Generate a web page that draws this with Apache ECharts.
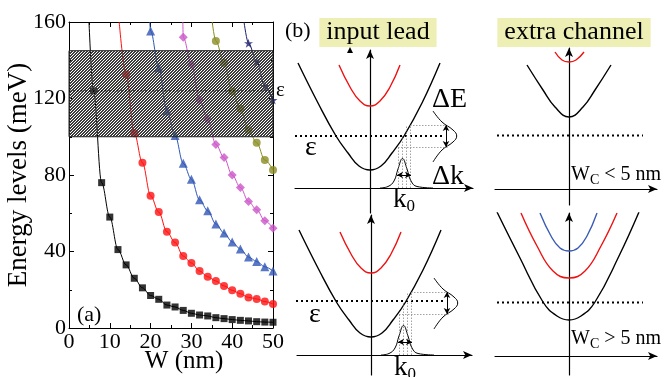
<!DOCTYPE html>
<html><head><meta charset="utf-8">
<script src="https://cdn.jsdelivr.net/npm/echarts@6/dist/echarts.min.js"></script>
<style>html,body{margin:0;padding:0;background:#fff}#c{width:666px;height:377px}</style>
</head><body><div id="c"></div>
<script>
// ================= Panel (a): energy levels vs W =================
const wBlack   = [6,8,10,12,14,16,18,20,22,24,26,28,30,32,34,36,38,40,42,44,46,48,50];
const eBlack   = [124,76,58,41,33,26,21,17,15,12,11,9.2,7.7,6.8,6.3,5.4,4.9,4.4,4.0,3.7,3.3,3.1,3.0];
const wRed     = [14,16,18,20,22,24,26,28,30,32,34,36,38,40,42,44,46,48,50];
const eRed     = [132.6,101.8,86.4,69.2,60.6,50.3,44.7,37.6,34.0,29.8,26.8,24.6,22.0,19.7,17.9,16.0,15.2,13.8,12.5];
const wBlue    = [20,22,24,26,28,30,32,34,36,38,40,42,44,46,48,50];
const eBlue    = [155.3,136.1,113.6,100.6,86.1,77.8,67,61.3,54.4,49.7,45,41.3,37.1,34.8,32,29.8];
const wMagenta = [28,30,32,34,36,38,40,42,44,46,48,50];
const eMagenta = [152,137.9,119.2,109.1,96,89.1,80,73.5,66.1,61.8,56.1,52.1];
const wOlive   = [36,38,40,42,44,46,48,50];
const eOlive   = [150.1,138.7,123.7,114.7,103.5,96.9,87.8,82.6];
const wNavy    = [44,46,48,50];
const eNavy    = [148.9,139.3,126.5,119.2];
// W at which each curve leaves the top of the frame (E = 160)
const topW     = [4.9,12.3,19.8,27.9,35.1,42.9];
const eTop     = 160;
const band     = [100,145];   // shaded energy window
const epsLevel = 124;         // dotted level epsilon
const xTicks   = [0,10,20,30,40,50];
const yTicks   = [0,40,80,120,160];

// ================= Panel (b): schematic band diagrams (arbitrary units) =================
const leadLowK  = [-72,-52,-34,-22,-11,0,11,22,34,52,70];
const leadLowE  = [125,85,52,35,22,18,22,35,52,85,125];
const leadHighK = [-31,-20,-10,0,10,20,30];
const leadHighE = [123,101,87,82,87,101,123];
const leadEps   = [52,54];
const epsSpan   = [-75,73];
const kPacketK  = [10,18,24,28,32.5,37,41,47,63];
const kPacketE  = [0,1.5,7,19,29.5,19,7,1.5,0];
const ePacketK  = [63,72,83,86.7,83,72,63];
const ePacketE  = [77,66,58,52,46,38,26];
const guideK    = [28,32,36,40];
const guideTop  = [41,52,63,63];
const dE        = [41,63];
const dEk       = 76;
const dk        = [27,41];
const dkE       = 13;
const guideEnd  = 79;
const ecNarrowLowK  = [-42,-26,-14,0,14,26,42];
const ecNarrowLowE  = [124,99,82,72,82,99,124];
const ecNarrowHighK = [-14,-7,0,7,15];
const ecNarrowHighE = [137,129,127,129,137];
const ecWide1K = [-72,-50,-26,-12,0,12,26,50,70];
const ecWide1E = [144,100,54,40,36,40,54,100,144];
const ecWide2K = [-48,-32,-16,0,16,32,48];
const ecWide2E = [143,110,85,78,85,110,143];
const ecWide3K = [-29,-18,-9,0,9,18,28];
const ecWide3E = [143,120,108,105,108,120,143];
const ecEps    = 53.5;
const ecSpan   = [-72,74];

const SERIF = "'Liberation Serif','Times New Roman',serif";
const zip = (a, b) => a.map((v, i) => [v, b[i]]);

const pat = document.createElement('canvas'); pat.width = 3; pat.height = 3;
const pc = pat.getContext('2d'); pc.fillStyle = '#3c3c3c';
for (let i = 0; i < 3; i++) { pc.fillRect(i, 2 - i, 1, 1); pc.fillRect((i + 1) % 3, 2 - i, 1, 1); }

const STAR = 'path://M50,0 L61,35 L98,35 L68,57 L79,91 L50,70 L21,91 L32,57 L2,35 L39,35 Z';

const levels = [
  {w: wBlack,   e: eBlack,   c: '#000000', s: 'rect',     sz: 7},
  {w: wRed,     e: eRed,     c: '#ff1010', s: 'circle',   sz: 8},
  {w: wBlue,    e: eBlue,    c: '#2f55b5', s: 'triangle', sz: 9},
  {w: wMagenta, e: eMagenta, c: '#cc55c8', s: 'diamond',  sz: 9},
  {w: wOlive,   e: eOlive,   c: '#8a8c22', s: 'circle',   sz: 8},
  {w: wNavy,    e: eNavy,    c: '#1c1f6e', s: STAR,       sz: 9}
];

const series = [];
levels.forEach((L, i) => {
  const pts = zip(L.w, L.e);
  series.push({type: 'line', xAxisIndex: 0, yAxisIndex: 0, data: [[topW[i], eTop]].concat(pts),
    smooth: 0.35, smoothMonotone: 'x', showSymbol: false, silent: true,
    lineStyle: {color: L.c, width: 1}, z: 2});
  series.push({type: 'scatter', xAxisIndex: 0, yAxisIndex: 0, data: pts, symbol: L.s,
    symbolSize: L.sz, itemStyle: {color: L.c}, silent: true, z: 3});
});
series.push({type: 'custom', xAxisIndex: 0, yAxisIndex: 0, z: 5, silent: true,
  data: [[xTicks[0], xTicks[xTicks.length - 1], band[0], band[1]]],
  encode: {x: [0, 1], y: [2, 3]},
  renderItem: (p, api) => {
    const a = api.coord([api.value(0), api.value(3)]);
    const b = api.coord([api.value(1), api.value(2)]);
    return {type: 'rect', shape: {x: a[0], y: a[1], width: b[0] - a[0], height: b[1] - a[1]},
      style: {fill: {image: pat, repeat: 'repeat'}, stroke: '#222', lineWidth: 1}};
  }});
series.push({type: 'line', xAxisIndex: 0, yAxisIndex: 0, z: 6, silent: true, showSymbol: false,
  data: [[xTicks[0], epsLevel], [xTicks[xTicks.length - 1], epsLevel]],
  lineStyle: {color: '#000', width: 1, type: [1.5, 2.5]},
  endLabel: {show: true, formatter: 'ε', fontFamily: SERIF, fontSize: 21, color: '#000', distance: 3}});

function curve(g, ks, es, color, width, extra) {
  return Object.assign({type: 'line', xAxisIndex: g + 1, yAxisIndex: g + 1, data: zip(ks, es),
    smooth: 0.45, showSymbol: false, silent: true, lineStyle: {color, width}, z: 3}, extra || {});
}
function dotted(g, span, e) {
  return {type: 'line', xAxisIndex: g + 1, yAxisIndex: g + 1, data: [[span[0], e], [span[1], e]],
    showSymbol: false, silent: true, lineStyle: {color: '#000', width: 2, type: [2, 3]}, z: 2};
}
function packets(g) {
  const gl = {color: '#8a8a8a', width: 0.8, type: [1.5, 1.5]};
  const ar = {color: '#000', width: 1, type: 'solid'};
  const seg = (p, q, ls, sym) => [{coord: p, lineStyle: ls, symbol: sym, symbolSize: [5, 6]}, {coord: q, symbol: sym, symbolSize: [5, 6]}];
  const marks = [];
  guideK.forEach((k, i) => marks.push(seg([k, 0], [k, guideTop[i]], gl, 'none')));
  marks.push(seg([guideK[3], dE[1]], [guideEnd, dE[1]], gl, 'none'));
  marks.push(seg([guideK[0], dE[0]], [guideEnd, dE[0]], gl, 'none'));
  marks.push(seg([dEk, dE[0]], [dEk, dE[1]], ar, 'arrow'));
  marks.push(seg([dk[0], dkE], [dk[1], dkE], ar, 'arrow'));
  return [
    curve(g, kPacketK, kPacketE, '#000', 1, {markLine: {silent: true, symbol: 'none',
      label: {show: false}, data: marks, animation: false}}),
    curve(g, ePacketK, ePacketE, '#000', 1)
  ];
}
[1, 2].forEach((g, i) => {
  series.push(dotted(g, epsSpan, leadEps[i]));
  series.push(curve(g, leadLowK, leadLowE, '#000', 1.4));
  series.push(curve(g, leadHighK, leadHighE, '#ee1111', 1.4));
  packets(g).forEach(s => series.push(s));
});
series.push(dotted(3, ecSpan, ecEps));
series.push(curve(3, ecNarrowLowK, ecNarrowLowE, '#000', 1.4));
series.push(curve(3, ecNarrowHighK, ecNarrowHighE, '#ee1111', 1.4));
series.push(dotted(4, ecSpan, ecEps));
series.push(curve(4, ecWide1K, ecWide1E, '#000', 1.4));
series.push(curve(4, ecWide2K, ecWide2E, '#ee1111', 1.4));
series.push(curve(4, ecWide3K, ecWide3E, '#3a5cb5', 1.4));

const tickStyle = {lineStyle: {color: '#000', width: 1}};
const mainX = (pos, labels) => ({gridIndex: 0, type: 'value', position: pos, min: xTicks[0], max: xTicks[xTicks.length - 1],
  interval: xTicks[1] - xTicks[0],
  axisLine: {onZero: false, lineStyle: {color: '#000', width: 1}},
  axisTick: Object.assign({inside: true, length: 5}, tickStyle),
  minorTick: Object.assign({show: true, splitNumber: 2, length: 3}, tickStyle),
  splitLine: {show: false},
  axisLabel: {show: labels, fontFamily: SERIF, fontSize: 22, color: '#000', margin: 3},
  name: labels ? 'W (nm)' : '', nameLocation: 'middle', nameGap: 21, nameMoveOverlap: false,
  nameTextStyle: {fontFamily: SERIF, fontSize: 25, color: '#000', padding: [0, 0, 0, 26]}});
const mainY = (pos, labels) => ({gridIndex: 0, type: 'value', position: pos, min: yTicks[0], max: yTicks[yTicks.length - 1],
  interval: yTicks[1] - yTicks[0],
  axisLine: {onZero: false, lineStyle: {color: '#000', width: 1}},
  axisTick: Object.assign({inside: true, length: 5}, tickStyle),
  minorTick: Object.assign({show: true, splitNumber: 2, length: 3}, tickStyle),
  splitLine: {show: false},
  axisLabel: {show: labels, fontFamily: SERIF, fontSize: 22, color: '#000', margin: 3},
  name: labels ? 'Energy levels (meV)' : '', nameLocation: 'middle', nameGap: 37, nameRotate: 90, nameMoveOverlap: false,
  nameTextStyle: {fontFamily: SERIF, fontSize: 27, color: '#000'}});

const sk = [
  {left: 295, top: 50,  width: 178, height: 163, x: [-75, 103], y: [-25, 138]},
  {left: 297, top: 215, width: 175, height: 160, x: [-74, 101], y: [-20, 140]},
  {left: 495, top: 48,  width: 162, height: 157, x: [-74, 88],  y: [-16, 141]},
  {left: 495, top: 213, width: 162, height: 162, x: [-74, 88],  y: [-19, 143]}
];
const grids = [{left: 69, top: 22, width: 204, height: 306, outerBoundsMode: 'none', containLabel: false}]
  .concat(sk.map(s => ({left: s.left, top: s.top, width: s.width, height: s.height, outerBoundsMode: 'none', containLabel: false})));
const arrowLine = {show: true, onZero: true, symbol: ['none', 'arrow'], symbolSize: [6, 9], lineStyle: {color: '#000', width: 1.2}};
const xAxes = [mainX('bottom', true), mainX('top', false)].concat(sk.map((s, i) => ({gridIndex: i + 1, type: 'value',
  min: s.x[0], max: s.x[1], axisLine: arrowLine, axisTick: {show: false}, axisLabel: {show: false}, splitLine: {show: false}})));
const yAxes = [mainY('left', true), mainY('right', false)].concat(sk.map((s, i) => ({gridIndex: i + 1, type: 'value',
  min: s.y[0], max: s.y[1], axisLine: arrowLine, axisTick: {show: false}, axisLabel: {show: false}, splitLine: {show: false}})));

const txt = (x, y, text, size, extra) => ({type: 'text', x, y, silent: true, z: 20,
  style: Object.assign({text, font: size + 'px ' + SERIF, fill: '#000', align: 'left', verticalAlign: 'top'}, extra || {})});
const boxStyle = {backgroundColor: '#eeefb5', padding: [1, 7, 2, 7], verticalAlign: 'middle', align: 'center'};
const richK = {k: {fontFamily: SERIF, fontSize: 27, color: '#000'}, s: {fontFamily: SERIF, fontSize: 17, color: '#000', padding: [14, 0, 0, 0]}};
const richW = {w: {fontFamily: SERIF, fontSize: 20, color: '#000'}, s: {fontFamily: SERIF, fontSize: 14, color: '#000', padding: [10, 0, 0, 0]}};
const graphic = [
  txt(77, 304, '(a)', 22),
  txt(285, 20, '(b)', 22),
  txt(378, 32.5, 'input lead', 26, boxStyle),
  txt(574, 32.5, 'extra channel', 26, boxStyle),
  txt(305, 134, 'ε', 28),
  txt(309, 301, 'ε', 28),
  txt(432, 86, 'ΔE', 28),
  txt(432, 163, 'Δk', 28),
  txt(393, 215, '{k|k}{s|0}', 0, {rich: richK, verticalAlign: 'bottom'}),
  txt(394, 383, '{k|k}{s|0}', 0, {rich: richK, verticalAlign: 'bottom'}),
  txt(571, 187, '{w|W}{s|C}{w| < 5 nm}', 0, {rich: richW, verticalAlign: 'bottom'}),
  txt(571, 351, '{w|W}{s|C}{w| > 5 nm}', 0, {rich: richW, verticalAlign: 'bottom'}),
  {type: 'polygon', silent: true, shape: {points: [[347, 53], [353, 53], [350, 47]]}, style: {fill: '#000'}}
];

const chart = echarts.init(document.getElementById('c'), null, {renderer: 'canvas'});
chart.setOption({animation: false, backgroundColor: '#fff', grid: grids, xAxis: xAxes, yAxis: yAxes, series, graphic});
</script></body></html>
